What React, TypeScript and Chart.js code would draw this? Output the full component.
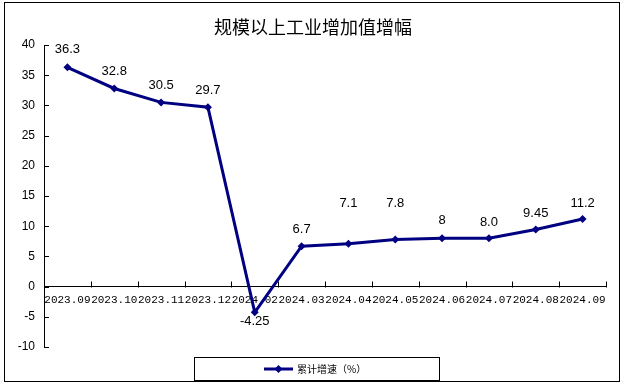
import React, { useEffect, useRef } from "react";
import { Chart, registerables } from "chart.js";

Chart.register(...registerables);

const categories = [
  "2023.09", "2023.10", "2023.11", "2023.12", "2024.02", "2024.03",
  "2024.04", "2024.05", "2024.06", "2024.07", "2024.08", "2024.09",
];
const growth = [36.3, 32.8, 30.5, 29.7, -4.25, 6.7, 7.1, 7.8, 8, 8.0, 9.45, 11.2];
const growthText = ["36.3", "32.8", "30.5", "29.7", "-4.25", "6.7", "7.1", "7.8", "8", "8.0", "9.45", "11.2"];
const labelNudge = [-18, -17, -17, -17, 9, -17, -40, -36, -18, -16, -16, -16];
const yTicks = [-10, -5, 0, 5, 10, 15, 20, 25, 30, 35, 40];

const TITLE = "规模以上工业增加值增幅";
const SERIES = "累计增速（%）";
const NAVY = "#000080";

const decorPlugin = {
  id: "decor",
  afterDraw(chart: any) {
    const ctx = chart.ctx;
    const x = chart.scales.x;
    const y = chart.scales.y;
    const area = chart.chartArea;
    ctx.save();
    // frame
    ctx.strokeStyle = "#000";
    ctx.lineWidth = 1;
    ctx.strokeRect(4.5, 2.5, 615, 379);
    // title
    ctx.fillStyle = "#000";
    ctx.font = '18px "Noto Sans CJK SC"';
    ctx.textAlign = "center";
    ctx.textBaseline = "middle";
    ctx.fillText(TITLE, 313, 27);
    // inward y ticks
    const y0 = Math.round(y.getPixelForValue(0)) + 0.5;
    ctx.beginPath();
    yTicks.forEach((v) => {
      const py = Math.round(y.getPixelForValue(v)) + 0.5;
      ctx.moveTo(area.left, py);
      ctx.lineTo(area.left + 5, py);
    });
    // inward x ticks at category boundaries
    const n = categories.length;
    for (let i = 0; i <= n; i++) {
      const px = Math.round(area.left + ((area.right - area.left) * i) / n) + 0.5;
      ctx.moveTo(px, y0);
      ctx.lineTo(px, y0 - 6);
    }
    ctx.stroke();
    // data labels
    const meta = chart.getDatasetMeta(0);
    ctx.font = '13px "Liberation Sans"';
    ctx.fillStyle = "#000";
    meta.data.forEach((pt: any, i: number) => {
      ctx.fillText(growthText[i], pt.x, pt.y + labelNudge[i]);
    });
    // legend
    ctx.strokeStyle = "#000";
    ctx.lineWidth = 1;
    ctx.strokeRect(194.5, 357.5, 245, 23);
    ctx.strokeStyle = NAVY;
    ctx.lineWidth = 3;
    ctx.beginPath();
    ctx.moveTo(264, 369);
    ctx.lineTo(293, 369);
    ctx.stroke();
    ctx.fillStyle = NAVY;
    ctx.beginPath();
    ctx.moveTo(278.5, 365);
    ctx.lineTo(282.5, 369);
    ctx.lineTo(278.5, 373);
    ctx.lineTo(274.5, 369);
    ctx.closePath();
    ctx.fill();
    ctx.fillStyle = "#000";
    ctx.font = '10px "Noto Sans CJK SC"';
    ctx.textAlign = "left";
    ctx.fillText(SERIES, 297, 369);
    ctx.restore();
  },
};

export default function App() {
  const ref = useRef<HTMLCanvasElement>(null);
  useEffect(() => {
    if (!ref.current) return;
    const chart = new Chart(ref.current, {
      type: "line",
      data: {
        labels: categories,
        datasets: [
          {
            label: SERIES,
            data: growth,
            borderColor: NAVY,
            backgroundColor: NAVY,
            borderWidth: 3,
            pointStyle: "rectRot",
            pointRadius: 4,
            pointBorderWidth: 0,
            tension: 0,
          },
        ],
      },
      options: {
        animation: false,
        responsive: false,
        devicePixelRatio: 1,
        layout: { padding: { top: 45, bottom: 40, right: 18, left: 0 } },
        plugins: { legend: { display: false }, title: { display: false }, tooltip: { enabled: false } },
        scales: {
          x: {
            type: "category",
            offset: true,
            position: { y: 0 } as any,
            grid: { display: true, drawOnChartArea: false, drawTicks: false, offset: true },
            border: { display: true, color: "#000", width: 1 },
            ticks: {
              autoSkip: false,
              maxRotation: 0,
              minRotation: 0,
              padding: 7,
              color: "#000",
              font: { family: "Liberation Mono", size: 11 },
            },
          },
          y: {
            min: -10,
            max: 40,
            afterFit(scale: any) {
              scale.width = 44;
            },
            grid: { display: true, drawOnChartArea: false, drawTicks: false },
            border: { display: true, color: "#000", width: 1 },
            ticks: {
              stepSize: 5,
              padding: 9,
              color: "#000",
              font: { family: "Liberation Sans", size: 12 },
            },
          },
        },
      },
      plugins: [decorPlugin],
    });
    return () => chart.destroy();
  }, []);
  return (
    <div style={{ position: "absolute", left: 0, top: 0, width: 624, height: 387, background: "#fff" }}>
      <canvas ref={ref} width={624} height={387} style={{ display: "block" }} />
    </div>
  );
}
